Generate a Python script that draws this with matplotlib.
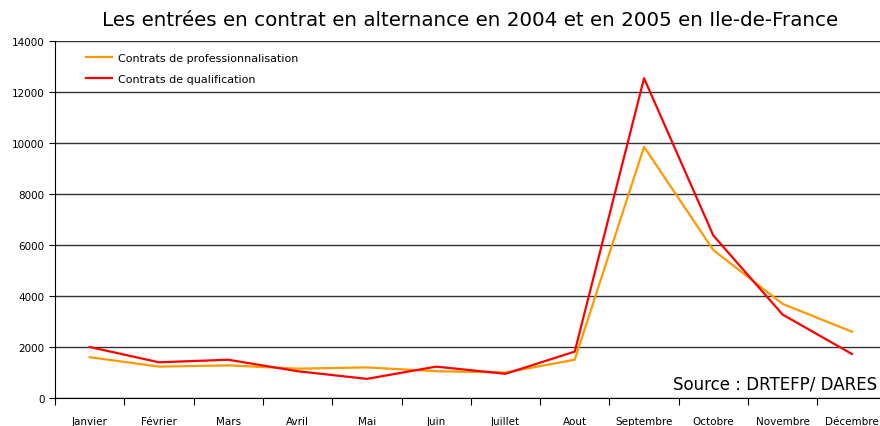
import numpy as np
import matplotlib.pyplot as plt

mois = ["Janvier", "Février", "Mars", "Avril", "Mai", "Juin", "Juillet",
        "Aout", "Septembre", "Octobre", "Novembre", "Décembre"]
professionnalisation = [1600, 1230, 1280, 1150, 1200, 1050, 1000, 1500, 9850, 5800, 3690, 2600]
qualification = [2000, 1400, 1500, 1050, 750, 1230, 950, 1820, 12540, 6370, 3270, 1725]

fig = plt.figure(figsize=(8.8, 4.27), dpi=100)
ax = fig.add_axes([0.0625, 0.0656, 0.945, 0.836])

x = np.arange(len(mois))
ax.plot(x, professionnalisation, color="#ff9900", lw=1.6, label="Contrats de professionnalisation")
ax.plot(x, qualification, color="#ff0000", lw=1.6, label="Contrats de qualification")

ax.set_xlim(-0.5, len(mois) - 0.5)
ax.set_ylim(0, 14000)
ax.set_yticks(np.arange(0, 14001, 2000))
ax.yaxis.grid(True, color="#333333", lw=1)
ax.set_axisbelow(True)

# ticks at category boundaries, labels in the middle
ax.set_xticks(np.arange(-0.5, len(mois), 1))
ax.set_xticklabels([])
ax.set_xticks(x, minor=True)
ax.set_xticklabels(mois, minor=True, fontsize=7.5)
ax.tick_params(axis="x", which="minor", length=0, pad=13)
ax.tick_params(axis="x", which="major", length=5, direction="out")
ax.tick_params(axis="y", labelsize=7.5, length=4)

for s in ["top", "right"]:
    ax.spines[s].set_visible(False)
ax.spines["left"].set_color("black")
ax.spines["bottom"].set_color("black")

ax.legend(loc="upper left", bbox_to_anchor=(0.025, 0.995), frameon=False,
          fontsize=8, handlelength=2.4, handletextpad=0.5, labelspacing=1.0)

fig.text(0.997, 0.1, "Source : DRTEFP/ DARES", ha="right", va="center", fontsize=12)

fig.text(0.534, 0.952, "Les entrées en contrat en alternance en 2004 et en 2005 en Ile-de-France",
         ha="center", va="center", fontsize=14.3)

fig.savefig("out.png", dpi=100)
